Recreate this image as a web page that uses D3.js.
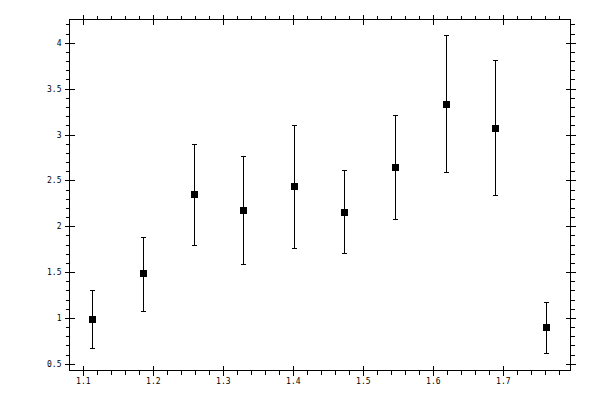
<!DOCTYPE html>
<html>
<head>
<meta charset="utf-8">
<script src="https://cdn.jsdelivr.net/npm/d3@7"></script>
<style>
  body { margin: 0; background: #fff; }
  text { font-family: "DejaVu Sans Mono", monospace; font-size: 8px; fill: #000; }
</style>
</head>
<body>
<script>
width = 600;
height = 400;

// values
xs    = [1.114, 1.187, 1.259, 1.330, 1.403, 1.474, 1.547, 1.619, 1.690, 1.762];
ys    = [0.980, 1.481, 2.343, 2.168, 2.430, 2.146, 2.637, 3.324, 3.062, 0.892];
lows  = [0.663, 1.067, 1.787, 1.579, 1.754, 1.699, 2.073, 2.586, 2.332, 0.612];
highs = [1.296, 1.880, 2.888, 2.760, 3.095, 2.604, 3.204, 4.080, 3.804, 1.165];
xTicks = [1.1, 1.2, 1.3, 1.4, 1.5, 1.6, 1.7];
yTicks = [0.5, 1, 1.5, 2, 2.5, 3, 3.5, 4];
xMinor = d3.range(1.08, 1.80, 0.02);
yMinor = d3.range(0.5, 4.25, 0.1);

box = {"left": 69, "top": 19, "right": 570, "bottom": 370};

x = d3.scaleLinear().domain([1.081, 1.7967]).range([box.left, box.right]);
y = d3.scaleLinear().domain([0.427, 4.254]).range([box.bottom, box.top]);

svg = d3.select("body").append("svg")
  .attr("width", width)
  .attr("height", height)
  .attr("shape-rendering", "crispEdges");

svg.append("rect")
  .attr("x", box.left + 0.5).attr("y", box.top + 0.5)
  .attr("width", box.right - box.left).attr("height", box.bottom - box.top)
  .attr("fill", "none").attr("stroke", "#000");

// draws one side: minor ticks outward, major ticks crossing the frame
function side(axisFn, scale, pos, major, minor, labels) {
  var inrange = minor.filter(function(v) {
    var d = scale.domain();
    return v >= d[0] && v <= d[1];
  });
  var parts = [
    axisFn(scale).tickValues(inrange).tickSize(4).tickFormat(""),
    axisFn(scale).tickValues(major).tickSize(5).tickFormat(labels ? d3.format("") : ""),
    axisFn(scale).tickValues(major).tickSize(-5).tickFormat("")
  ];
  parts.forEach(function(a) {
    var g = svg.append("g").attr("transform", pos).call(a);
    g.select(".domain").remove();
    g.selectAll("line").attr("stroke", "#000");
  });
}

side(d3.axisBottom, x, "translate(0.5," + (box.bottom + 0.5) + ")", xTicks, xMinor, true);
side(d3.axisTop, x, "translate(0.5," + (box.top + 0.5) + ")", xTicks, xMinor, false);
side(d3.axisLeft, y, "translate(" + (box.left + 0.5) + ",0.5)", yTicks, yMinor, true);
side(d3.axisRight, y, "translate(" + (box.right + 0.5) + ",0.5)", yTicks, yMinor, false);

svg.selectAll(".tick text").attr("font-family", null).attr("font-size", null);

// error bars
pts = xs.map(function(v, i) { return {x: v, y: ys[i], lo: lows[i], hi: highs[i]}; });
bars = svg.append("g").attr("stroke", "#000").attr("stroke-width", 1);
bars.selectAll(".stem").data(pts).enter().append("line")
  .attr("x1", function(d) { return Math.round(x(d.x)) + 0.5; })
  .attr("x2", function(d) { return Math.round(x(d.x)) + 0.5; })
  .attr("y1", function(d) { return Math.round(y(d.lo)) + 0.5; })
  .attr("y2", function(d) { return Math.round(y(d.hi)) + 0.5; });
["lo", "hi"].forEach(function(k) {
  bars.selectAll(".cap-" + k).data(pts).enter().append("line")
    .attr("x1", function(d) { return Math.round(x(d.x)) - 2; })
    .attr("x2", function(d) { return Math.round(x(d.x)) + 3; })
    .attr("y1", function(d) { return Math.round(y(d[k])) + 0.5; })
    .attr("y2", function(d) { return Math.round(y(d[k])) + 0.5; });
});

// square markers
svg.selectAll(".pt").data(pts).enter().append("rect")
  .attr("x", function(d) { return Math.round(x(d.x)) - 3; })
  .attr("y", function(d) { return Math.round(y(d.y)) - 3; })
  .attr("width", 7).attr("height", 7)
  .attr("fill", "#000");
</script>
</body>
</html>
